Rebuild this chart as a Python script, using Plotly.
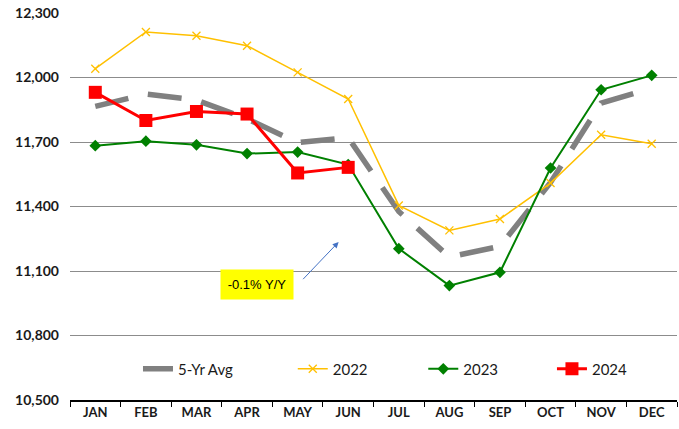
import plotly.graph_objects as go

months = ["JAN", "FEB", "MAR", "APR", "MAY", "JUN", "JUL", "AUG", "SEP", "OCT", "NOV", "DEC"]

avg_5yr = [11866, 11923, 11895, 11808, 11697, 11720, 11377, 11165, 11215, 11512, 11881, 11951]
y2022 = [12041, 12212, 12194, 12148, 12024, 11900, 11405, 11289, 11342, 11509, 11734, 11692]
y2023 = [11683, 11704, 11687, 11646, 11653, 11595, 11204, 11032, 11094, 11579, 11943, 12010]
y2024 = [11931, 11800, 11842, 11830, 11556, 11582]

y_ticks = [10500, 10800, 11100, 11400, 11700, 12000, 12300]

font_family = "Lato, 'DejaVu Sans', sans-serif"

fig = go.Figure()

fig.add_trace(go.Scatter(
    x=months, y=avg_5yr, name="5-Yr Avg", mode="lines", legend="legend",
    line=dict(color="#808080", width=5.5, dash="34px,20px"),
))
fig.add_trace(go.Scatter(
    x=months, y=y2022, name="2022", mode="lines+markers", legend="legend2",
    line=dict(color="#FFC000", width=1.5),
    marker=dict(symbol="x-thin", size=8, line=dict(color="#FFC000", width=1.3)),
))
fig.add_trace(go.Scatter(
    x=months, y=y2023, name="2023", mode="lines+markers", legend="legend3",
    line=dict(color="#008000", width=2),
    marker=dict(symbol="diamond", size=9, color="#008000"),
))
fig.add_trace(go.Scatter(
    x=months[:len(y2024)], y=y2024, name="2024", mode="lines+markers", legend="legend4",
    line=dict(color="#FF0000", width=3),
    marker=dict(symbol="square", size=13, color="#FF0000"),
))

# Year-over-year callout box and its pointer arrow
fig.add_annotation(
    x=3.19, y=11037, xref="x", yref="y",
    text="-0.1% Y/Y", showarrow=False,
    bgcolor="#FFFF00", width=70, height=27,
    font=dict(family="'Liberation Sans', Arial, sans-serif", size=13, color="#000000"),
)
fig.add_annotation(
    x=4.81, y=11235, ax=4.08, ay=11055,
    xref="x", yref="y", axref="x", ayref="y",
    text="", showarrow=True, arrowhead=2, arrowsize=1.2,
    arrowwidth=1, arrowcolor="#4472C4",
)

legend_style = dict(
    orientation="h", y=0.08, xanchor="left", yanchor="middle",
    font=dict(family=font_family, size=15, color="#1a1a1a"),
    bgcolor="rgba(0,0,0,0)",
)

fig.update_layout(
    width=679, height=429,
    margin=dict(l=70, r=2, t=13, b=29),
    paper_bgcolor="white", plot_bgcolor="white",
    font=dict(family=font_family, size=13, color="#1a1a1a"),
    legend=dict(x=0.112, **legend_style),
    legend2=dict(x=0.367, **legend_style),
    legend3=dict(x=0.582, **legend_style),
    legend4=dict(x=0.794, **legend_style),
    showlegend=True,
)

fig.update_xaxes(
    type="category", categoryorder="array", categoryarray=months,
    range=[-0.5, 11.5],
    showline=True, linecolor="#000000", linewidth=1.5,
    ticks="outside", tickson="boundaries", ticklen=5, tickcolor="#000000",
    showgrid=False,
    tickfont=dict(family=font_family, size=13, color="#1a1a1a", weight="bold"),
)
fig.update_yaxes(
    range=[10500, 12300], tickvals=y_ticks, tickformat=",",
    showgrid=True, gridcolor="#8c8c8c", gridwidth=1.3,
    showline=False, zeroline=False, ticks="",
    tickfont=dict(family=font_family, size=14, color="#1a1a1a", weight="bold"),
    ticklabelstandoff=10,
)

fig.write_html("out.html")
